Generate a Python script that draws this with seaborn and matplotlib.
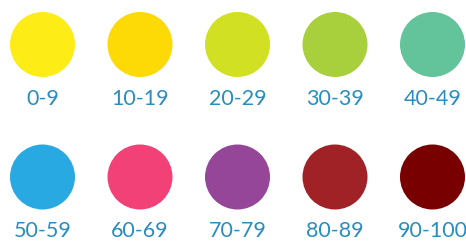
import numpy as np
import pandas as pd
import seaborn as sns
import matplotlib.pyplot as plt

# categories and their colours
labels = ["0-9", "10-19", "20-29", "30-39", "40-49",
          "50-59", "60-69", "70-79", "80-89", "90-100"]
colors = ["#FEEC16", "#FDD905", "#D2E023", "#A8CF3C", "#63C39B",
          "#29A9E1", "#F24176", "#954699", "#A02227", "#790000"]

df = pd.DataFrame({"label": labels, "color": colors})
df["col"] = np.arange(len(df)) % 5
df["row"] = np.arange(len(df)) // 5

sns.set_style("white")
fig = plt.figure(figsize=(4.66, 2.41), dpi=100)
ax = fig.add_axes([0, 0, 1, 1])

sns.scatterplot(data=df, x="col", y="row", hue="label", palette=dict(zip(labels, colors)),
                s=2190, linewidth=0, legend=False, ax=ax)

for _, r in df.iterrows():
    ax.text(r["col"], r["row"] + 0.41, r["label"], ha="center", va="center",
            fontsize=15.5, color="#2A8CBF", family="Lato")

xmin = -42.5 / 97.5
ax.set_xlim(xmin, xmin + 466 / 97.5)
ytop = -44.5 / 132.5
ax.set_ylim(ytop + 241 / 132.5, ytop)
ax.axis("off")

fig.savefig("out.png", dpi=100)
